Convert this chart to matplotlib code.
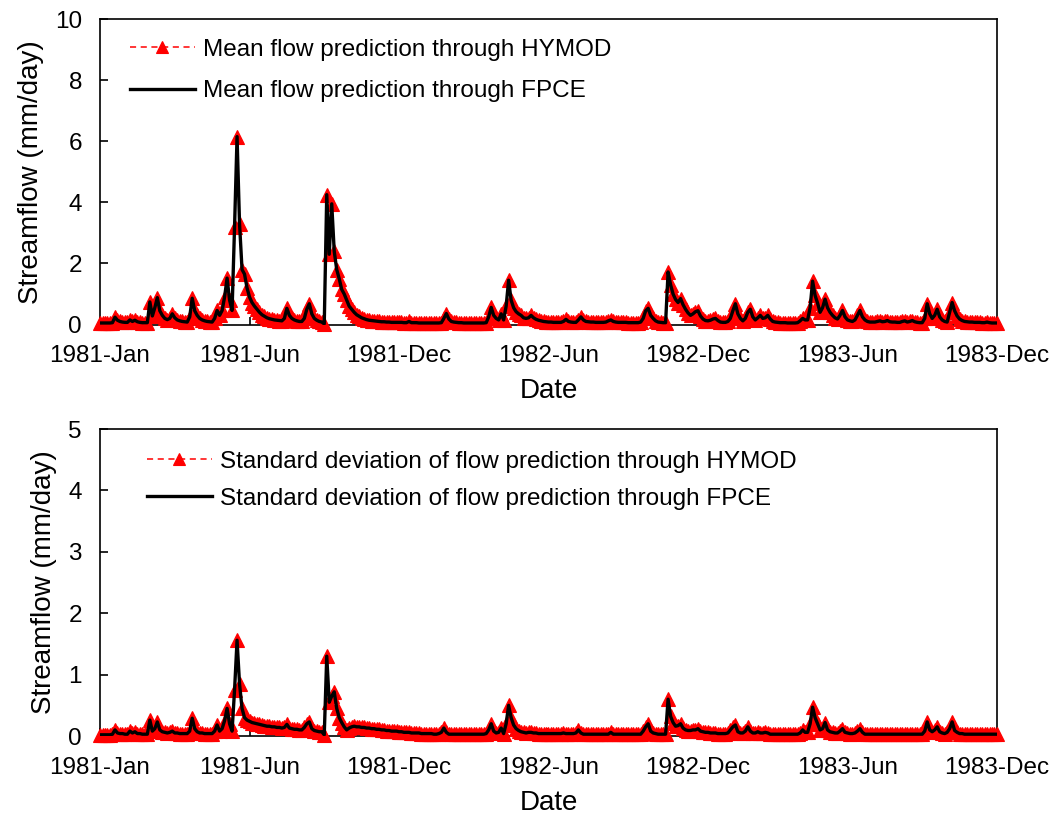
import matplotlib
matplotlib.use('Agg')
import matplotlib.pyplot as plt
import matplotlib.dates as mdates
import pandas as pd

plt.rcParams['font.family'] = ['Liberation Sans', 'DejaVu Sans']

# simulated streamflow, one value every 3 days starting 1981-01-01 (mm/day)
mean_hymod = [
    0.05, 0.05, 0.05, 0.05, 0.05, 0.06, 0.24, 0.14, 0.10, 0.08,
    0.07, 0.07, 0.15, 0.10, 0.14, 0.09, 0.07, 0.06, 0.06, 0.06,
    0.74, 0.28, 0.55, 0.88, 0.45, 0.30, 0.20, 0.16, 0.20, 0.35,
    0.22, 0.15, 0.12, 0.10, 0.09, 0.08, 0.25, 0.86, 0.45, 0.30,
    0.20, 0.15, 0.12, 0.10, 0.09, 0.08, 0.20, 0.46, 0.30, 0.46,
    0.90, 1.52, 0.80, 0.46, 3.20, 6.15, 3.30, 1.80, 1.65, 1.20,
    0.90, 0.72, 0.60, 0.50, 0.40, 0.32, 0.27, 0.22, 0.19, 0.17,
    0.15, 0.14, 0.13, 0.12, 0.20, 0.53, 0.30, 0.20, 0.15, 0.12,
    0.10, 0.10, 0.20, 0.50, 0.68, 0.35, 0.20, 0.14, 0.10, 0.08,
    0.02, 4.25, 2.30, 3.95, 2.40, 1.80, 1.50, 1.15, 1.00, 0.80,
    0.60, 0.50, 0.40, 0.32, 0.27, 0.22, 0.19, 0.16, 0.14, 0.13,
    0.12, 0.11, 0.10, 0.09, 0.09, 0.08, 0.08, 0.07, 0.07, 0.07,
    0.07, 0.07, 0.06, 0.06, 0.10, 0.06, 0.06, 0.06, 0.05, 0.05,
    0.05, 0.05, 0.05, 0.05, 0.05, 0.05, 0.05, 0.06, 0.20, 0.36,
    0.18, 0.10, 0.08, 0.07, 0.06, 0.06, 0.05, 0.05, 0.05, 0.05,
    0.05, 0.05, 0.05, 0.05, 0.05, 0.06, 0.25, 0.56, 0.30, 0.20,
    0.15, 0.35, 0.15, 0.60, 1.45, 0.80, 0.55, 0.42, 0.35, 0.30,
    0.22, 0.20, 0.22, 0.30, 0.22, 0.17, 0.14, 0.12, 0.10, 0.09,
    0.08, 0.08, 0.07, 0.07, 0.07, 0.07, 0.10, 0.17, 0.10, 0.08,
    0.07, 0.07, 0.15, 0.25, 0.15, 0.10, 0.09, 0.08, 0.08, 0.07,
    0.07, 0.07, 0.07, 0.08, 0.12, 0.15, 0.10, 0.08, 0.07, 0.07,
    0.07, 0.07, 0.06, 0.06, 0.06, 0.06, 0.06, 0.08, 0.20, 0.45,
    0.53, 0.30, 0.20, 0.12, 0.08, 0.07, 0.06, 0.06, 1.72, 1.30,
    1.00, 0.82, 0.72, 0.85, 0.65, 0.50, 0.38, 0.30, 0.35, 0.42,
    0.45, 0.28, 0.18, 0.13, 0.12, 0.14, 0.18, 0.20, 0.13, 0.08,
    0.07, 0.07, 0.10, 0.20, 0.45, 0.68, 0.35, 0.20, 0.12, 0.20,
    0.40, 0.50, 0.25, 0.15, 0.22, 0.30, 0.20, 0.22, 0.30, 0.18,
    0.10, 0.08, 0.07, 0.06, 0.06, 0.06, 0.05, 0.05, 0.05, 0.05,
    0.06, 0.12, 0.20, 0.15, 0.15, 0.55, 1.42, 0.95, 0.70, 0.40,
    0.55, 0.83, 0.55, 0.40, 0.30, 0.22, 0.18, 0.30, 0.46, 0.25,
    0.15, 0.12, 0.10, 0.15, 0.30, 0.46, 0.25, 0.15, 0.10, 0.08,
    0.08, 0.08, 0.10, 0.12, 0.09, 0.10, 0.13, 0.09, 0.08, 0.08,
    0.07, 0.07, 0.10, 0.12, 0.08, 0.10, 0.13, 0.09, 0.07, 0.06,
    0.06, 0.20, 0.68, 0.35, 0.20, 0.30, 0.50, 0.25, 0.15, 0.10,
    0.08, 0.40, 0.72, 0.45, 0.28, 0.18, 0.13, 0.10, 0.09, 0.08,
    0.08, 0.07, 0.07, 0.07, 0.06, 0.06, 0.08, 0.06, 0.05, 0.05, 0.05,
]
# the FPCE curve sits right on top of the HYMOD one
mean_fpce = list(mean_hymod)

std_hymod = [
    0.02, 0.02, 0.02, 0.02, 0.02, 0.03, 0.10, 0.05, 0.04, 0.04,
    0.03, 0.03, 0.08, 0.05, 0.07, 0.04, 0.04, 0.03, 0.03, 0.03,
    0.26, 0.08, 0.12, 0.23, 0.10, 0.07, 0.06, 0.05, 0.06, 0.08,
    0.05, 0.05, 0.04, 0.04, 0.04, 0.04, 0.08, 0.29, 0.12, 0.07,
    0.05, 0.05, 0.04, 0.04, 0.04, 0.04, 0.08, 0.18, 0.08, 0.12,
    0.25, 0.45, 0.20, 0.08, 0.75, 1.56, 0.85, 0.45, 0.30, 0.26,
    0.24, 0.22, 0.21, 0.20, 0.19, 0.18, 0.17, 0.16, 0.16, 0.15,
    0.15, 0.14, 0.14, 0.13, 0.14, 0.19, 0.13, 0.12, 0.11, 0.11,
    0.10, 0.10, 0.14, 0.20, 0.23, 0.12, 0.09, 0.08, 0.07, 0.07,
    0.02, 1.30, 0.55, 0.65, 0.72, 0.45, 0.30, 0.22, 0.15, 0.10,
    0.13, 0.15, 0.16, 0.15, 0.15, 0.14, 0.14, 0.13, 0.13, 0.12,
    0.12, 0.11, 0.11, 0.10, 0.10, 0.09, 0.09, 0.08, 0.08, 0.08,
    0.07, 0.07, 0.06, 0.06, 0.06, 0.05, 0.05, 0.05, 0.05, 0.04,
    0.04, 0.04, 0.04, 0.04, 0.03, 0.03, 0.04, 0.06, 0.13, 0.06,
    0.03, 0.03, 0.03, 0.03, 0.03, 0.03, 0.03, 0.03, 0.03, 0.03,
    0.03, 0.03, 0.03, 0.03, 0.03, 0.04, 0.10, 0.20, 0.08, 0.05,
    0.06, 0.13, 0.04, 0.20, 0.50, 0.30, 0.18, 0.12, 0.09, 0.07,
    0.06, 0.05, 0.06, 0.06, 0.05, 0.05, 0.04, 0.04, 0.04, 0.04,
    0.04, 0.04, 0.04, 0.04, 0.04, 0.04, 0.05, 0.04, 0.04, 0.04,
    0.04, 0.05, 0.10, 0.05, 0.03, 0.03, 0.03, 0.03, 0.03, 0.03,
    0.03, 0.03, 0.03, 0.03, 0.03, 0.06, 0.03, 0.03, 0.03, 0.03,
    0.03, 0.03, 0.03, 0.03, 0.03, 0.03, 0.03, 0.03, 0.08, 0.15,
    0.20, 0.08, 0.05, 0.04, 0.03, 0.03, 0.03, 0.03, 0.60, 0.32,
    0.22, 0.16, 0.17, 0.20, 0.13, 0.10, 0.09, 0.09, 0.10, 0.10,
    0.12, 0.08, 0.07, 0.06, 0.06, 0.05, 0.05, 0.05, 0.04, 0.04,
    0.04, 0.04, 0.05, 0.10, 0.15, 0.18, 0.07, 0.05, 0.05, 0.08,
    0.15, 0.08, 0.05, 0.05, 0.07, 0.05, 0.05, 0.06, 0.05, 0.03,
    0.03, 0.03, 0.03, 0.03, 0.03, 0.03, 0.03, 0.03, 0.03, 0.03,
    0.03, 0.05, 0.10, 0.06, 0.06, 0.20, 0.47, 0.30, 0.20, 0.10,
    0.12, 0.22, 0.10, 0.07, 0.06, 0.05, 0.05, 0.08, 0.12, 0.06,
    0.05, 0.04, 0.04, 0.05, 0.08, 0.12, 0.06, 0.03, 0.03, 0.03,
    0.03, 0.03, 0.03, 0.03, 0.03, 0.03, 0.03, 0.03, 0.03, 0.03,
    0.03, 0.03, 0.03, 0.03, 0.03, 0.03, 0.03, 0.03, 0.03, 0.03,
    0.03, 0.08, 0.23, 0.10, 0.07, 0.10, 0.15, 0.07, 0.05, 0.04,
    0.06, 0.12, 0.23, 0.09, 0.06, 0.04, 0.04, 0.03, 0.03, 0.03,
    0.03, 0.03, 0.03, 0.03, 0.03, 0.03, 0.03, 0.03, 0.03, 0.03, 0.03,
]
std_fpce = list(std_hymod)

dates = pd.date_range('1981-01-01', periods=len(mean_hymod), freq='3D')
tick_dates = pd.date_range('1981-01-01', periods=7, freq='180D')

fig = plt.figure(figsize=(10.55, 8.17), dpi=100)
ax1 = fig.add_axes([0.0948, 0.6028, 0.8502, 0.3739])
ax2 = fig.add_axes([0.0948, 0.0991, 0.8502, 0.3758])

panels = [
    (ax1, mean_hymod, mean_fpce, 10, 2,
     'Mean flow prediction through HYMOD', 'Mean flow prediction through FPCE',
     (0.033, 0.935), 0.8),
    (ax2, std_hymod, std_fpce, 5, 1,
     'Standard deviation of flow prediction through HYMOD',
     'Standard deviation of flow prediction through FPCE',
     (0.052, 0.93), 0.62),
]

for ax, hy, fp, ymax, ystep, lab_hy, lab_fp, leg_pos, spacing in panels:
    line, = ax.plot(dates, hy, color='red', linestyle=(0, (4, 3)), linewidth=1.1, marker='^',
                    markersize=9.5, markeredgewidth=0.8, markeredgecolor='red',
                    label=lab_hy, clip_on=False, zorder=3)
    ax.plot(dates, fp, color='black', linewidth=2.4, label=lab_fp, zorder=4)
    ax.set_ylim(0, ymax)
    ax.set_yticks(range(0, ymax + 1, ystep))
    ax.set_xlim(pd.Timestamp('1981-01-01'), pd.Timestamp('1983-12-17'))
    ax.set_xticks(tick_dates)
    ax.xaxis.set_major_formatter(mdates.DateFormatter('%Y-%b'))
    ax.tick_params(direction='in', length=6, width=1.2, labelsize=17.5, color='black')
    ax.tick_params(axis='x', pad=15)
    ax.tick_params(axis='y', pad=13)
    for s in ax.spines.values():
        s.set_linewidth(1.2)
    ax.set_xlabel('Date', fontsize=20, labelpad=8)
    ax.set_ylabel('Streamflow (mm/day)', fontsize=20, labelpad=8)
    leg = ax.legend(loc='upper left', bbox_to_anchor=leg_pos, frameon=False, fontsize=17.5,
                    handlelength=2.7, handletextpad=0.3, labelspacing=spacing,
                    borderaxespad=0, borderpad=0, numpoints=1)
    # the legend triangle is a bit smaller than the plotted ones
    leg.legend_handles[0].set_markersize(8)

fig.savefig('out.png', dpi=100)
